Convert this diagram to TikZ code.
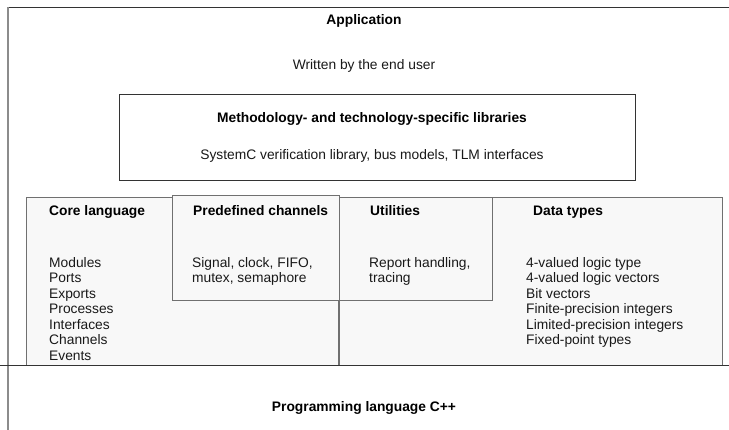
\documentclass[tikz,border=0pt]{standalone}
\usepackage{fontspec}
\setmainfont{Liberation Sans}
\usetikzlibrary{positioning}
\definecolor{panelfill}{HTML}{F8F8F8}
\definecolor{panelline}{HTML}{707070}
\newcommand\layerfont{\fontsize{13.8}{15.5}\selectfont}
\tikzset{
  panel/.style={
    rectangle,
    draw=panelline, line width=1.2pt,
    fill=panelfill,
    anchor=north west,
    inner sep=0pt
  },
  libbox/.style={
    rectangle,
    draw=black!80, line width=1pt,
    fill=white,
    anchor=north west,
    inner sep=0pt
  },
  heading/.style={font=\layerfont\bfseries, inner sep=0pt, anchor=mid, yshift=-1.5pt},
  entry/.style={font=\layerfont, text=black!90, inner sep=0pt, anchor=mid west, yshift=-1.5pt},
  rule/.style={draw=black!80, line width=1pt}
}

\begin{document}
\begin{tikzpicture}[x=1pt, y=-1pt, font=\layerfont]
\useasboundingbox (0,0) rectangle (729,430);

% frame of the application layer
\coordinate (app-nw) at (8,7.5);
\coordinate (app-ne) at (729,7.5);
\coordinate (app-sw) at (8,430);
\draw[rule] (app-nw) -- (app-ne);
\draw[draw=gray!90, line width=1.5pt] (app-nw) -- (app-sw);

% nodes
\node[heading] (app) at (364,20) {Application};
\node[entry, anchor=mid] (user) at (364,65) {Written by the end user};

\node[libbox, minimum width=516pt, minimum height=86pt] (lib) at (119,94) {};
\node[heading] (lib-title) at (372,118) {Methodology- and technology-specific libraries};
\node[entry, anchor=mid] (lib-text) at (372,155)
  {SystemC verification library, bus models, TLM interfaces};

\node[panel, minimum width=696pt, minimum height=168pt] (core) at (26,197) {};
\node[panel, minimum width=167pt, minimum height=105pt] (chan) at (172,195) {};
\node[panel, minimum width=153pt, minimum height=103pt] (util) at (339,197) {};

\node[heading, anchor=mid west] (core-title) at (49,211) {Core language};
\node[heading, anchor=mid west] (chan-title) at (193,211) {Predefined channels};
\node[heading, anchor=mid west] (util-title) at (370,211) {Utilities};
\node[heading, anchor=mid west] (data-title) at (533,211) {Data types};

\foreach \txt [count=\i from 0] in {Modules, Ports, Exports, Processes, Interfaces, Channels, Events}
  \node[entry] (core-\i) at (49,{263+15.5*\i}) {\txt};
\foreach \txt [count=\i from 0] in {{Signal, clock, FIFO,}, {mutex, semaphore}}
  \node[entry] (chan-\i) at (192,{263+15.5*\i}) {\txt};
\foreach \txt [count=\i from 0] in {{Report handling,}, tracing}
  \node[entry] (util-\i) at (369,{263+15.5*\i}) {\txt};
\foreach \txt [count=\i from 0] in {4-valued logic type, 4-valued logic vectors, Bit vectors,
    Finite-precision integers, Limited-precision integers, Fixed-point types}
  \node[entry] (data-\i) at (526,{263+15.5*\i}) {\txt};

\node[heading] (cpp) at (364,407) {Programming language C++};

% edges
\draw[draw=panelline, line width=1.2pt] (util.south west) -- (util.south west |- core.south);
\coordinate (cpp-w) at (0,366);
\coordinate (cpp-e) at (729,366);
\draw[rule] (cpp-w) -- (cpp-e);

\end{tikzpicture}
\end{document}
